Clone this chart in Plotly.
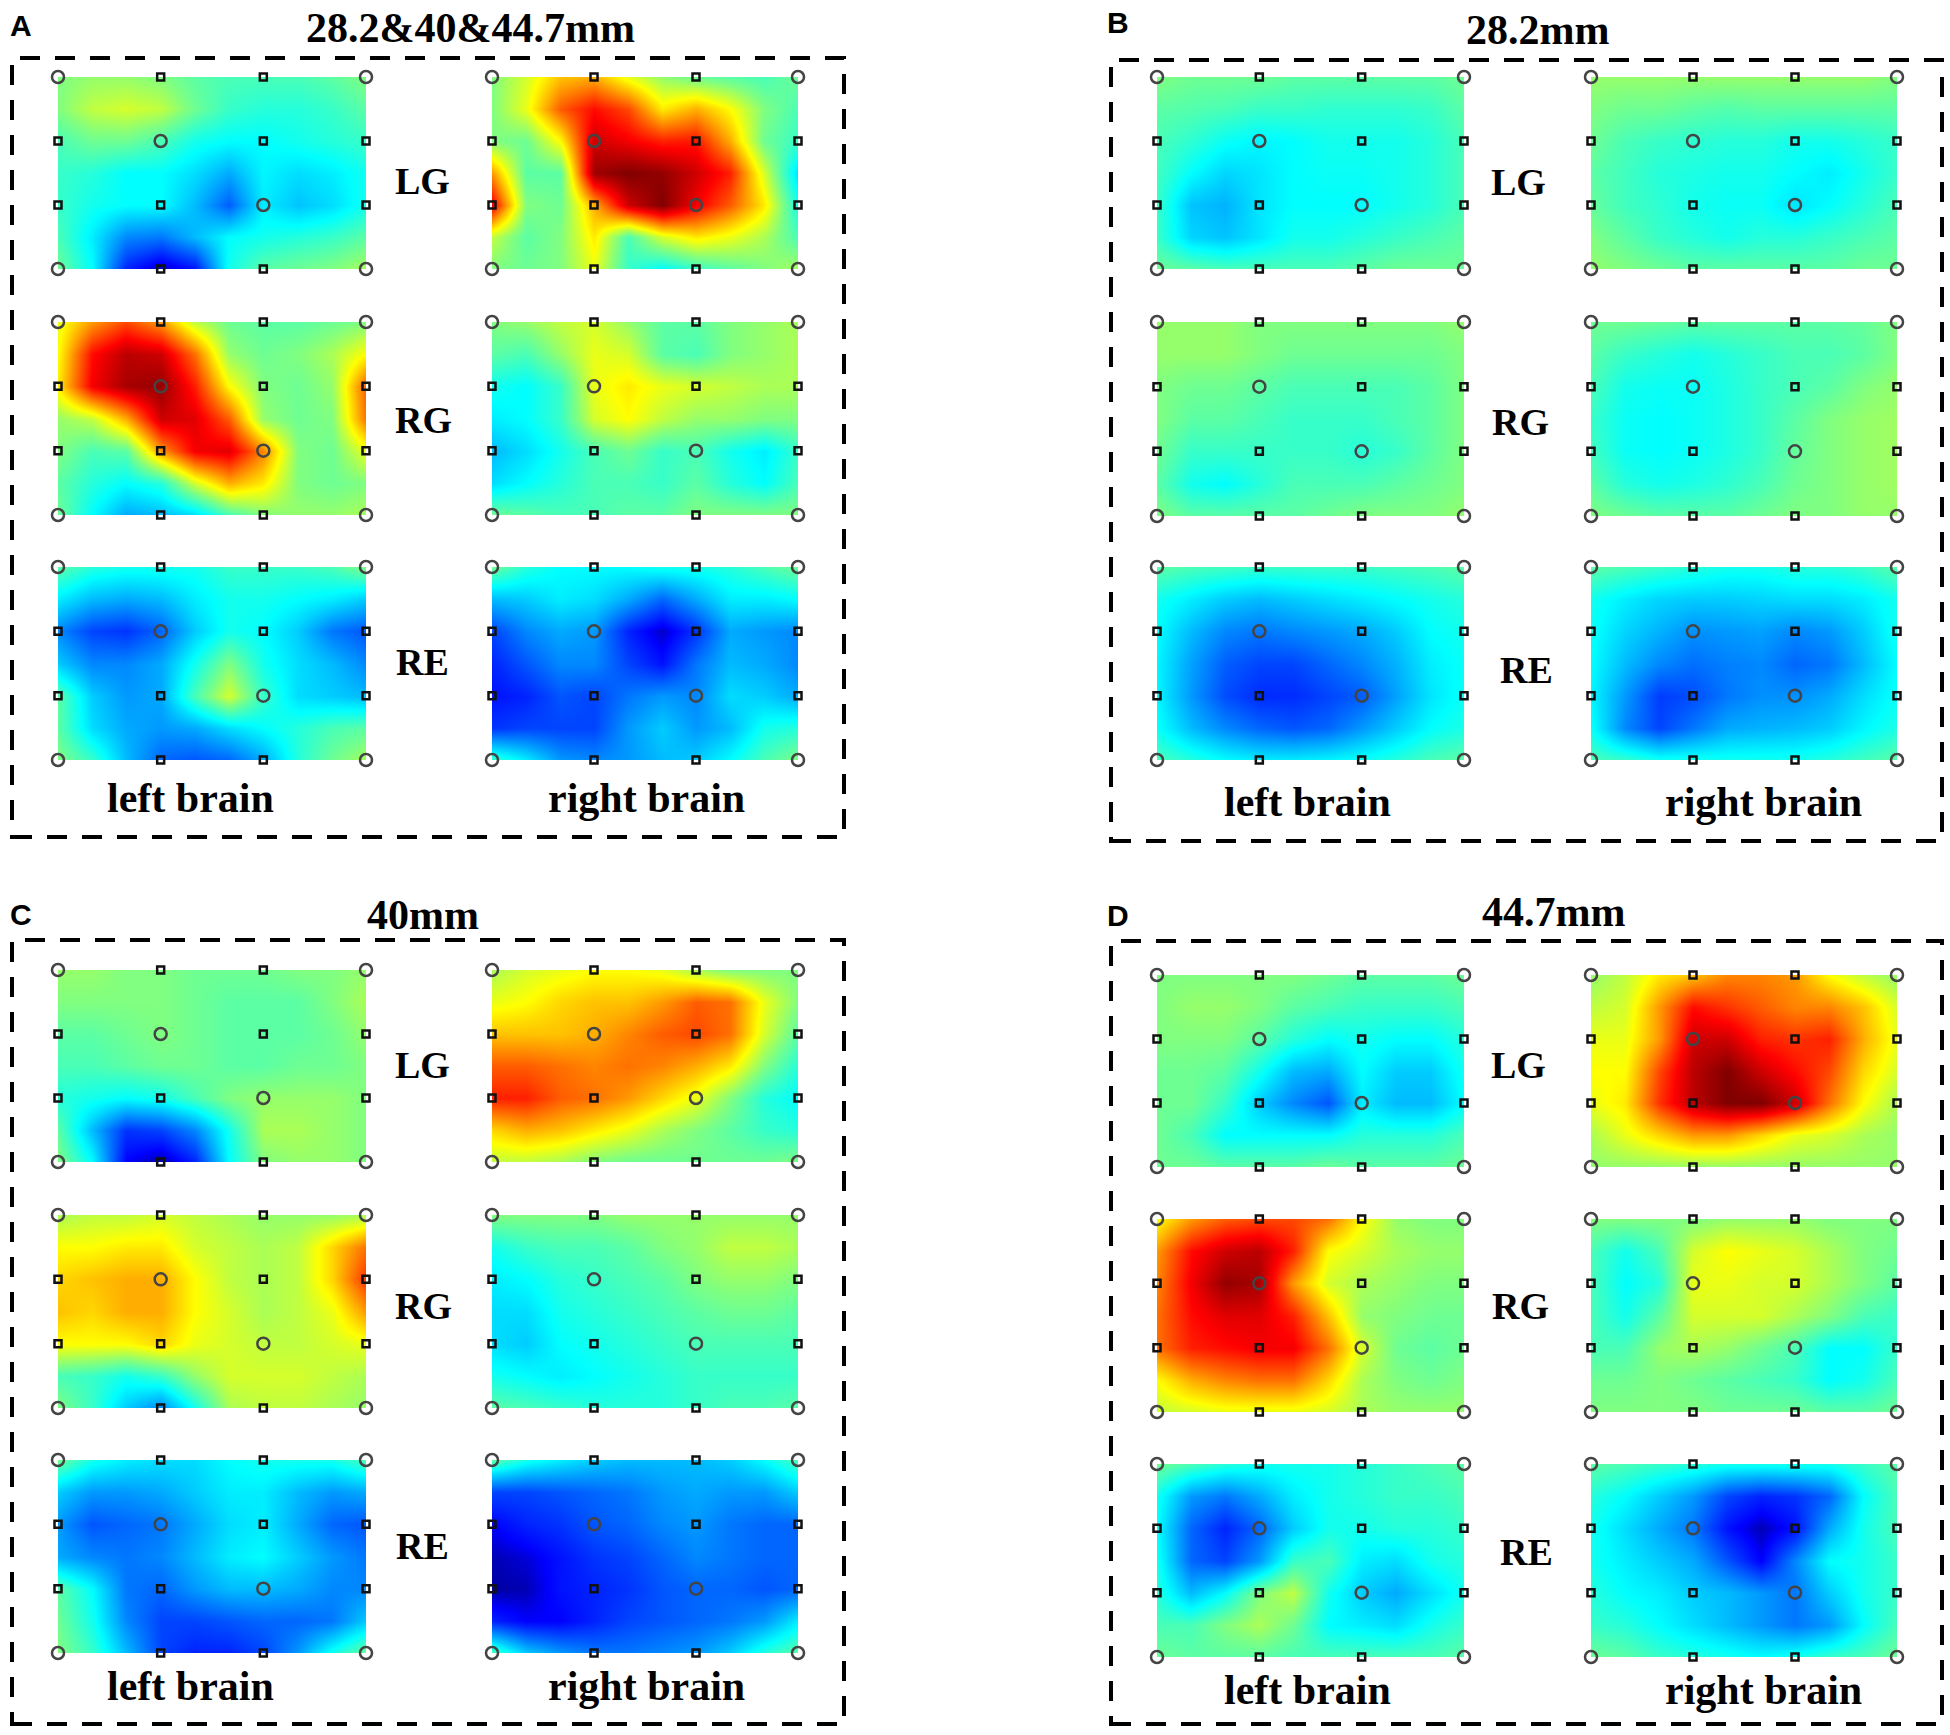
"""Mapas de activación por canal (paneles A-D) con Plotly."""

import plotly.graph_objects as go

# Filas de arriba abajo, columnas de izquierda a derecha; escala 0-100 de la paleta jet
A_LG_LEFT = [
    [50, 52, 52, 50, 46, 44, 44, 44, 46, 50],
    [50, 56, 58, 56, 48, 42, 40, 40, 42, 46],
    [44, 48, 48, 44, 38, 36, 36, 38, 40, 42],
    [42, 40, 36, 36, 32, 26, 35, 32, 34, 38],
    [42, 38, 36, 36, 28, 17, 34, 29, 32, 38],
    [44, 34, 22, 20, 28, 36, 38, 40, 42, 46],
    [48, 36, 10, 2, 8, 38, 46, 48, 50, 54],
]
A_LG_RIGHT = [
    [50, 58, 68, 70, 60, 52, 48, 46, 44, 48],
    [50, 60, 78, 86, 80, 64, 70, 62, 50, 44],
    [50, 48, 62, 92, 88, 84, 85, 70, 48, 42],
    [72, 46, 46, 97, 100, 98, 92, 84, 58, 32],
    [88, 50, 48, 70, 92, 100, 88, 78, 64, 38],
    [56, 46, 50, 64, 44, 58, 64, 60, 54, 44],
    [50, 48, 50, 60, 42, 36, 42, 46, 50, 54],
]
A_RG_LEFT = [
    [60, 72, 80, 72, 56, 48, 46, 46, 48, 50],
    [62, 86, 94, 92, 76, 52, 48, 50, 54, 62],
    [64, 88, 96, 98, 84, 62, 50, 48, 52, 78],
    [52, 56, 70, 92, 90, 78, 52, 48, 50, 76],
    [50, 44, 46, 72, 88, 90, 74, 50, 48, 60],
    [46, 40, 36, 40, 58, 70, 64, 50, 48, 50],
    [48, 36, 26, 28, 32, 44, 50, 52, 52, 54],
]
A_RG_RIGHT = [
    [50, 52, 56, 58, 52, 46, 46, 50, 52, 54],
    [46, 44, 52, 60, 58, 46, 44, 50, 52, 54],
    [38, 36, 42, 60, 64, 60, 58, 56, 54, 54],
    [34, 36, 42, 58, 62, 56, 52, 52, 50, 50],
    [28, 32, 38, 44, 48, 42, 44, 38, 34, 42],
    [32, 36, 40, 44, 44, 42, 46, 40, 36, 44],
    [48, 46, 44, 44, 46, 46, 50, 50, 50, 50],
]
A_RE_LEFT = [
    [46, 40, 38, 38, 38, 42, 42, 42, 44, 50],
    [34, 28, 26, 28, 34, 38, 38, 36, 34, 30],
    [22, 14, 12, 18, 30, 38, 36, 30, 20, 16],
    [30, 22, 22, 26, 38, 50, 38, 32, 28, 22],
    [46, 30, 24, 26, 44, 58, 42, 32, 30, 28],
    [46, 32, 26, 24, 26, 32, 36, 40, 44, 46],
    [50, 42, 28, 18, 16, 18, 26, 40, 48, 54],
]
A_RE_RIGHT = [
    [48, 40, 36, 36, 36, 38, 38, 40, 44, 48],
    [28, 30, 34, 32, 26, 18, 26, 34, 34, 36],
    [14, 22, 26, 24, 10, 3, 12, 26, 24, 22],
    [10, 16, 22, 22, 14, 8, 20, 28, 26, 22],
    [8, 10, 16, 14, 20, 24, 22, 32, 30, 26],
    [12, 14, 14, 14, 24, 30, 24, 28, 38, 40],
    [42, 34, 24, 22, 24, 28, 30, 36, 44, 50],
]
B_LG_LEFT = [
    [50, 48, 48, 48, 46, 46, 46, 46, 46, 48],
    [46, 45, 44, 42, 42, 41, 41, 41, 42, 46],
    [44, 41, 37, 35, 36, 38, 38, 38, 40, 44],
    [43, 36, 31, 33, 36, 37, 37, 38, 40, 44],
    [42, 29, 27, 33, 36, 36, 36, 38, 40, 44],
    [42, 31, 29, 33, 38, 38, 40, 42, 44, 46],
    [48, 46, 44, 44, 44, 44, 46, 48, 48, 48],
]
B_LG_RIGHT = [
    [52, 52, 52, 52, 52, 52, 52, 52, 52, 50],
    [50, 48, 48, 46, 45, 46, 46, 46, 46, 46],
    [48, 44, 42, 41, 40, 40, 38, 38, 40, 42],
    [46, 43, 40, 39, 38, 38, 36, 34, 38, 42],
    [47, 43, 41, 38, 37, 37, 33, 36, 40, 44],
    [50, 46, 42, 40, 38, 40, 40, 42, 44, 46],
    [52, 50, 48, 46, 46, 46, 46, 46, 48, 48],
]
B_RG_LEFT = [
    [52, 52, 52, 50, 50, 50, 50, 50, 50, 52],
    [52, 52, 52, 50, 48, 48, 48, 48, 48, 50],
    [50, 48, 48, 46, 44, 44, 44, 44, 46, 50],
    [50, 46, 46, 44, 42, 42, 42, 44, 46, 50],
    [48, 42, 42, 42, 42, 42, 40, 42, 46, 50],
    [46, 38, 36, 40, 44, 44, 44, 46, 48, 50],
    [50, 46, 46, 46, 46, 48, 50, 50, 50, 52],
]
B_RG_RIGHT = [
    [48, 48, 47, 46, 46, 46, 46, 46, 47, 50],
    [46, 42, 40, 38, 40, 42, 44, 44, 46, 50],
    [44, 38, 37, 37, 39, 42, 44, 46, 50, 52],
    [42, 37, 36, 37, 39, 42, 46, 50, 52, 53],
    [43, 37, 36, 37, 39, 42, 47, 50, 52, 53],
    [46, 40, 38, 39, 41, 44, 48, 50, 52, 53],
    [50, 48, 46, 46, 46, 48, 50, 50, 52, 52],
]
B_RE_LEFT = [
    [46, 44, 43, 42, 42, 42, 42, 43, 44, 46],
    [38, 34, 30, 28, 30, 32, 34, 36, 38, 40],
    [36, 28, 22, 20, 22, 24, 26, 30, 36, 38],
    [35, 25, 17, 14, 14, 18, 22, 27, 34, 37],
    [35, 24, 15, 11, 11, 14, 17, 25, 33, 37],
    [37, 28, 22, 18, 16, 18, 24, 30, 36, 39],
    [44, 40, 36, 34, 34, 35, 37, 40, 44, 46],
]
B_RE_RIGHT = [
    [46, 44, 42, 40, 38, 38, 40, 40, 42, 46],
    [38, 34, 31, 30, 30, 31, 32, 32, 34, 38],
    [37, 31, 27, 23, 24, 25, 22, 24, 30, 38],
    [36, 28, 22, 19, 21, 22, 18, 20, 28, 36],
    [35, 24, 13, 15, 20, 23, 23, 26, 32, 37],
    [37, 22, 14, 20, 26, 27, 28, 30, 35, 39],
    [44, 42, 38, 38, 38, 38, 38, 40, 43, 46],
]
C_LG_LEFT = [
    [52, 52, 50, 50, 48, 48, 48, 50, 50, 52],
    [50, 50, 50, 50, 48, 46, 46, 46, 50, 54],
    [46, 46, 48, 50, 48, 46, 46, 46, 48, 52],
    [44, 44, 46, 48, 48, 46, 46, 48, 48, 50],
    [40, 38, 36, 38, 44, 50, 52, 52, 52, 50],
    [46, 28, 12, 14, 22, 38, 54, 54, 52, 50],
    [50, 36, 6, 1, 10, 36, 50, 52, 52, 50],
]
C_LG_RIGHT = [
    [54, 58, 60, 62, 62, 60, 54, 50, 50, 50],
    [60, 62, 66, 68, 68, 72, 78, 76, 60, 50],
    [68, 68, 68, 70, 74, 78, 80, 76, 58, 46],
    [78, 78, 76, 74, 76, 74, 70, 64, 50, 40],
    [84, 84, 78, 76, 72, 66, 60, 50, 40, 36],
    [66, 70, 68, 64, 60, 54, 50, 46, 42, 40],
    [56, 56, 54, 50, 48, 48, 48, 48, 48, 50],
]
C_RG_LEFT = [
    [54, 56, 56, 58, 56, 54, 52, 52, 52, 54],
    [62, 62, 64, 64, 58, 56, 54, 56, 66, 76],
    [66, 68, 70, 70, 62, 56, 54, 56, 66, 82],
    [68, 66, 70, 70, 62, 58, 54, 56, 60, 72],
    [62, 62, 62, 66, 60, 58, 56, 56, 58, 60],
    [44, 42, 38, 42, 52, 58, 58, 58, 56, 54],
    [50, 42, 30, 22, 38, 54, 56, 56, 54, 52],
]
C_RG_RIGHT = [
    [50, 50, 50, 50, 52, 52, 52, 52, 52, 52],
    [38, 42, 44, 44, 46, 50, 52, 56, 56, 54],
    [34, 36, 40, 42, 44, 46, 50, 52, 52, 50],
    [32, 32, 38, 40, 42, 44, 46, 48, 48, 46],
    [32, 30, 36, 38, 40, 42, 44, 44, 44, 44],
    [38, 36, 34, 36, 38, 40, 42, 42, 42, 42],
    [46, 44, 42, 40, 40, 40, 42, 44, 44, 46],
]
C_RE_LEFT = [
    [48, 38, 34, 32, 32, 36, 38, 38, 38, 44],
    [30, 24, 24, 26, 30, 34, 34, 28, 24, 26],
    [24, 16, 18, 20, 26, 32, 34, 26, 18, 16],
    [26, 22, 20, 22, 28, 34, 36, 30, 24, 20],
    [46, 36, 20, 18, 24, 28, 28, 26, 22, 22],
    [48, 38, 22, 14, 14, 16, 18, 18, 20, 30],
    [50, 42, 28, 14, 10, 10, 14, 24, 38, 48],
]
C_RE_RIGHT = [
    [46, 38, 34, 30, 28, 28, 28, 30, 36, 44],
    [14, 14, 16, 18, 20, 24, 26, 24, 24, 30],
    [6, 10, 12, 16, 18, 22, 24, 20, 18, 18],
    [2, 4, 8, 12, 14, 18, 22, 20, 18, 18],
    [1, 2, 8, 10, 12, 16, 18, 18, 16, 18],
    [10, 6, 6, 10, 14, 16, 18, 20, 24, 34],
    [44, 30, 24, 20, 20, 22, 24, 30, 40, 46],
]
D_LG_LEFT = [
    [50, 50, 50, 50, 50, 48, 46, 46, 46, 48],
    [50, 52, 52, 50, 46, 44, 42, 42, 42, 44],
    [50, 50, 50, 46, 40, 36, 38, 36, 36, 40],
    [48, 48, 46, 38, 28, 26, 36, 30, 30, 38],
    [48, 48, 42, 30, 22, 16, 34, 28, 28, 36],
    [48, 44, 36, 36, 36, 36, 40, 40, 40, 44],
    [48, 48, 46, 46, 46, 48, 46, 46, 46, 48],
]
D_LG_RIGHT = [
    [52, 56, 64, 68, 74, 74, 72, 62, 56, 52],
    [56, 58, 72, 86, 82, 78, 74, 74, 68, 58],
    [60, 60, 72, 92, 92, 84, 82, 84, 70, 60],
    [62, 62, 80, 94, 100, 92, 86, 80, 66, 58],
    [60, 64, 82, 94, 100, 100, 92, 76, 62, 54],
    [54, 60, 66, 72, 72, 66, 60, 58, 54, 52],
    [52, 52, 52, 52, 52, 52, 52, 52, 52, 52],
]
D_RG_LEFT = [
    [62, 72, 78, 80, 80, 76, 62, 52, 50, 50],
    [72, 86, 92, 94, 84, 62, 58, 54, 52, 52],
    [74, 88, 98, 96, 72, 58, 54, 52, 50, 50],
    [76, 86, 90, 90, 84, 68, 52, 50, 48, 48],
    [76, 84, 86, 88, 88, 76, 58, 48, 46, 48],
    [62, 70, 74, 76, 76, 66, 54, 50, 48, 50],
    [56, 58, 60, 60, 60, 58, 54, 52, 52, 52],
]
D_RG_RIGHT = [
    [50, 50, 50, 50, 52, 52, 52, 50, 50, 50],
    [44, 38, 44, 58, 62, 60, 58, 54, 50, 48],
    [44, 36, 40, 60, 60, 58, 58, 54, 50, 46],
    [44, 38, 46, 58, 58, 58, 54, 50, 44, 42],
    [44, 44, 52, 54, 52, 48, 44, 36, 36, 42],
    [48, 48, 50, 48, 46, 44, 42, 36, 38, 44],
    [50, 50, 50, 50, 48, 48, 48, 46, 46, 48],
]
D_RE_LEFT = [
    [48, 44, 40, 38, 38, 38, 40, 42, 44, 46],
    [38, 24, 20, 26, 34, 38, 40, 42, 42, 44],
    [36, 18, 10, 18, 30, 38, 38, 40, 40, 42],
    [38, 18, 14, 24, 42, 44, 34, 32, 38, 40],
    [40, 28, 36, 50, 56, 38, 30, 26, 32, 38],
    [44, 44, 50, 54, 48, 36, 34, 32, 38, 42],
    [48, 46, 46, 46, 44, 44, 44, 44, 44, 46],
]
D_RE_RIGHT = [
    [46, 44, 42, 40, 38, 38, 38, 38, 42, 46],
    [40, 36, 30, 24, 14, 10, 12, 18, 36, 44],
    [38, 32, 26, 20, 8, 2, 8, 26, 38, 44],
    [38, 34, 30, 26, 16, 6, 22, 36, 38, 42],
    [40, 36, 34, 30, 28, 24, 20, 30, 38, 42],
    [42, 40, 36, 32, 28, 24, 20, 24, 36, 44],
    [48, 46, 42, 40, 38, 36, 38, 42, 44, 48],
]

GRID_X = [0, 1, 2, 3, 4, 5, 6, 7, 8, 9]
GRID_Y = [0, 1, 2, 3, 4, 5, 6]
RING_CHANNELS = [(0, 0), (9, 0), (3, 2), (6, 4), (0, 6), (9, 6)]
SQUARE_CHANNELS = [
    (3, 0), (6, 0),
    (0, 2), (6, 2), (9, 2),
    (0, 4), (3, 4), (9, 4),
    (3, 6), (6, 6),
]

JET = [
    [0.0, "#00008f"], [0.06, "#0000ff"], [0.36, "#00ffff"], [0.5, "#80ff80"],
    [0.62, "#ffff00"], [0.87, "#ff0000"], [1.0, "#800000"],
]

W, H = 1950, 1735
SERIF = "Liberation Serif"

# Cada panel: medidas en píxeles de la imagen
PANELS = [
    dict(letter="A", title="28.2&40&44.7mm", letter_xy=(21, 25), title_xy=(470, 28),
         box=(12, 58, 844, 837), xs=[(58, 366), (492, 798)],
         ys=[(77, 269), (322, 515), (567, 760)],
         labels=[(422, 181), (423, 420), (422, 662)], brain_y=798, brain_x=(190, 646),
         maps=[A_LG_LEFT, A_LG_RIGHT, A_RG_LEFT, A_RG_RIGHT, A_RE_LEFT, A_RE_RIGHT]),
    dict(letter="B", title="28.2mm", letter_xy=(1118, 22), title_xy=(1537, 30),
         box=(1111, 60, 1942, 841), xs=[(1157, 1464), (1591, 1897)],
         ys=[(77, 269), (322, 516), (567, 760)],
         labels=[(1518, 182), (1520, 422), (1526, 670)], brain_y=802, brain_x=(1307, 1763),
         maps=[B_LG_LEFT, B_LG_RIGHT, B_RG_LEFT, B_RG_RIGHT, B_RE_LEFT, B_RE_RIGHT]),
    dict(letter="C", title="40mm", letter_xy=(21, 914), title_xy=(423, 915),
         box=(12, 940, 844, 1724), xs=[(58, 366), (492, 798)],
         ys=[(970, 1162), (1215, 1408), (1460, 1653)],
         labels=[(422, 1065), (423, 1306), (422, 1546)], brain_y=1686, brain_x=(190, 646),
         maps=[C_LG_LEFT, C_LG_RIGHT, C_RG_LEFT, C_RG_RIGHT, C_RE_LEFT, C_RE_RIGHT]),
    dict(letter="D", title="44.7mm", letter_xy=(1118, 915), title_xy=(1553, 912),
         box=(1111, 941, 1942, 1724), xs=[(1157, 1464), (1591, 1897)],
         ys=[(975, 1167), (1219, 1412), (1464, 1657)],
         labels=[(1518, 1065), (1520, 1306), (1526, 1552)], brain_y=1690, brain_x=(1307, 1763),
         maps=[D_LG_LEFT, D_LG_RIGHT, D_RG_LEFT, D_RG_RIGHT, D_RE_LEFT, D_RE_RIGHT]),
]
ROW_LABELS = ["LG", "RG", "RE"]


def paper_text(text, x, y, size, family=SERIF):
    """Devuelve una anotación colocada en píxeles de la imagen."""
    label = f"<b>{text}</b>"
    return dict(
        text=label, xref="paper", yref="paper", x=x / W, y=1 - y / H,
        xanchor="center", yanchor="middle", showarrow=False,
        font=dict(family=family, size=size, color="black"),
    )


fig = go.Figure()
annotations = []
shapes = []
layout_axes = {}
axis_id = 0

for panel in PANELS:
    annotations.append(paper_text(panel["letter"], *panel["letter_xy"], 30, "Liberation Sans"))
    annotations.append(paper_text(panel["title"], *panel["title_xy"], 42))
    for bx, side in zip(panel["brain_x"], ["left brain", "right brain"]):
        annotations.append(paper_text(side, bx, panel["brain_y"], 42))
    for (lx, ly), name in zip(panel["labels"], ROW_LABELS):
        annotations.append(paper_text(name, lx, ly, 38))

    x0, y0, x1, y1 = panel["box"]
    shapes.append(dict(
        type="rect", xref="paper", yref="paper",
        x0=x0 / W, x1=x1 / W, y0=1 - y1 / H, y1=1 - y0 / H,
        line=dict(color="black", width=4, dash="20px,15px"),
    ))

    for k, z in enumerate(panel["maps"]):
        axis_id += 1
        xp = panel["xs"][k % 2]
        yp = panel["ys"][k // 2]
        xname, yname = f"x{axis_id}", f"y{axis_id}"
        fig.add_trace(go.Heatmap(
            z=z, x=GRID_X, y=GRID_Y, xaxis=xname, yaxis=yname, zmin=0, zmax=100,
            colorscale=JET, zsmooth="best", showscale=False,
        ))
        fig.add_trace(go.Scatter(
            x=[c[0] for c in RING_CHANNELS], y=[c[1] for c in RING_CHANNELS],
            xaxis=xname, yaxis=yname, mode="markers", cliponaxis=False, showlegend=False,
            marker=dict(symbol="circle-open", size=12, color="#444444", line=dict(width=2.5)),
        ))
        fig.add_trace(go.Scatter(
            x=[c[0] for c in SQUARE_CHANNELS], y=[c[1] for c in SQUARE_CHANNELS],
            xaxis=xname, yaxis=yname, mode="markers", cliponaxis=False, showlegend=False,
            marker=dict(symbol="square-open", size=7, color="#111111", line=dict(width=2.5)),
        ))
        layout_axes[f"xaxis{axis_id}"] = dict(
            domain=[xp[0] / W, xp[1] / W], range=[0, 9], visible=False, anchor=yname,
        )
        layout_axes[f"yaxis{axis_id}"] = dict(
            domain=[1 - yp[1] / H, 1 - yp[0] / H], range=[6, 0], visible=False, anchor=xname,
        )

fig.update_layout(
    width=W, height=H, margin=dict(l=0, r=0, t=0, b=0),
    paper_bgcolor="white", plot_bgcolor="white", showlegend=False,
    annotations=annotations, shapes=shapes, **layout_axes,
)
fig.write_html(
    "out.html",
    config={"displayModeBar": False},
    post_script="document.body.style.margin = '0';",
)
